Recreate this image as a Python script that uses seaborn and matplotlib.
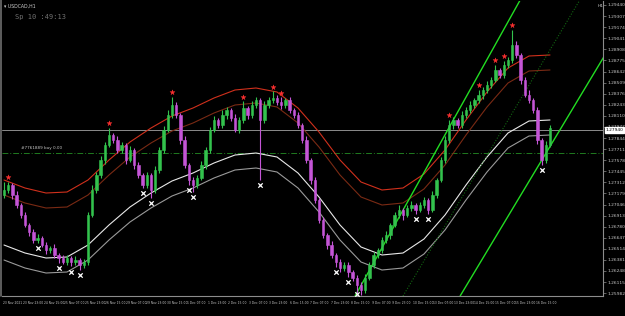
import numpy as np
import pandas as pd
import seaborn as sns
import matplotlib
matplotlib.use("Agg")
import matplotlib.pyplot as plt

# ---------------- data ----------------
closes = [1.27220, 1.27280, 1.27160, 1.27040, 1.26920, 1.26800, 1.26716, 1.26620, 1.26644, 1.26560,
          1.26500, 1.26524, 1.26440, 1.26404, 1.26356, 1.26404, 1.26356, 1.26380, 1.26320, 1.26356,
          1.26920, 1.27220, 1.27400, 1.27580, 1.27760, 1.27880, 1.27820, 1.27700, 1.27760, 1.27580,
          1.27700, 1.27520, 1.27400, 1.27280, 1.27400, 1.27220, 1.27460, 1.27700, 1.27940, 1.28120,
          1.28240, 1.28120, 1.27820, 1.27520, 1.27340, 1.27280, 1.27364, 1.27520, 1.27700, 1.27940,
          1.28060, 1.28000, 1.28120, 1.28180, 1.28084, 1.27940, 1.28060, 1.28204, 1.28120, 1.28240,
          1.28300, 1.28060, 1.28240, 1.28300, 1.28324, 1.28276, 1.28240, 1.28300, 1.28180, 1.28120,
          1.28000, 1.27820, 1.27580, 1.27340, 1.27100, 1.26860, 1.26680, 1.26560, 1.26440, 1.26356,
          1.26284, 1.26320, 1.26236, 1.26164, 1.26080, 1.26020, 1.26164, 1.26320, 1.26440, 1.26500,
          1.26620, 1.26680, 1.26800, 1.26920, 1.26980, 1.26920, 1.27004, 1.27040, 1.26980, 1.27040,
          1.27100, 1.26980, 1.27160, 1.27340, 1.27580, 1.27820, 1.28000, 1.28060, 1.28000, 1.28120,
          1.28180, 1.28240, 1.28300, 1.28360, 1.28420, 1.28480, 1.28540, 1.28660, 1.28600, 1.28720,
          1.28780, 1.28960, 1.28840, 1.28540, 1.28360, 1.28300, 1.28180, 1.27820, 1.27580, 1.27760,
          1.27964]
opens = [1.27160, 1.27220, 1.27280, 1.27160, 1.27040, 1.26920, 1.26800, 1.26716, 1.26620, 1.26644,
         1.26560, 1.26500, 1.26524, 1.26440, 1.26404, 1.26356, 1.26404, 1.26356, 1.26380, 1.26320,
         1.26356, 1.26920, 1.27220, 1.27400, 1.27580, 1.27760, 1.27880, 1.27820, 1.27700, 1.27760,
         1.27580, 1.27700, 1.27520, 1.27400, 1.27280, 1.27400, 1.27220, 1.27460, 1.27700, 1.27940,
         1.28120, 1.28240, 1.28120, 1.27820, 1.27520, 1.27340, 1.27280, 1.27364, 1.27520, 1.27700,
         1.27940, 1.28060, 1.28000, 1.28120, 1.28180, 1.28084, 1.27940, 1.28060, 1.28204, 1.28120,
         1.28240, 1.28300, 1.28060, 1.28240, 1.28300, 1.28324, 1.28276, 1.28240, 1.28300, 1.28180,
         1.28120, 1.28000, 1.27820, 1.27580, 1.27340, 1.27100, 1.26860, 1.26680, 1.26560, 1.26440,
         1.26356, 1.26284, 1.26320, 1.26236, 1.26164, 1.26080, 1.26020, 1.26164, 1.26320, 1.26440,
         1.26500, 1.26620, 1.26680, 1.26800, 1.26920, 1.26980, 1.26920, 1.27004, 1.27040, 1.26980,
         1.27040, 1.27100, 1.26980, 1.27160, 1.27340, 1.27580, 1.27820, 1.28000, 1.28060, 1.28000,
         1.28120, 1.28180, 1.28240, 1.28300, 1.28360, 1.28420, 1.28480, 1.28540, 1.28660, 1.28600,
         1.28720, 1.28780, 1.28960, 1.28840, 1.28540, 1.28360, 1.28300, 1.28180, 1.27820, 1.27580,
         1.27760]
upper_wick_pips = [10, 4, 3, 5, 3, 4, 3, 4, 5, 3,
                   4, 3, 5, 3, 4, 4, 3, 5, 3, 4,
                   3, 6, 4, 5, 4, 8, 3, 5, 4, 3,
                   5, 3, 4, 3, 4, 3, 5, 4, 5, 6,
                   10, 4, 3, 5, 3, 4, 3, 5, 4, 4,
                   5, 3, 6, 4, 3, 5, 4, 8, 3, 5,
                   4, 3, 5, 4, 8, 4, 6, 3, 4, 3,
                   4, 3, 5, 3, 4, 3, 4, 3, 5, 3,
                   4, 3, 4, 3, 3, 4, 5, 3, 4, 3,
                   4, 5, 3, 4, 6, 3, 4, 5, 3, 4,
                   4, 3, 5, 3, 4, 5, 6, 4, 3, 5,
                   4, 5, 3, 6, 4, 5, 4, 6, 3, 5,
                   4, 18, 5, 3, 4, 6, 3, 4, 3, 5,
                   4]
lower_wick_pips = [4, 3, 5, 3, 4, 3, 5, 3, 4, 3,
                   5, 4, 3, 6, 3, 4, 5, 4, 6, 4,
                   4, 3, 4, 3, 5, 3, 4, 3, 4, 5,
                   3, 5, 4, 4, 3, 10, 4, 3, 4, 3,
                   3, 4, 5, 3, 6, 8, 4, 3, 5, 4,
                   3, 4, 3, 5, 4, 3, 4, 3, 5, 4,
                   3, 72, 4, 3, 4, 3, 5, 3, 4, 3,
                   4, 3, 4, 5, 3, 4, 3, 5, 4, 6,
                   5, 4, 6, 4, 10, 6, 4, 3, 4, 3,
                   4, 3, 5, 3, 4, 6, 3, 4, 5, 3,
                   4, 5, 3, 4, 3, 4, 3, 5, 4, 3,
                   3, 4, 3, 4, 5, 3, 4, 3, 4, 3,
                   4, 3, 4, 5, 3, 4, 3, 5, 6, 4,
                   3]

band_idx = list(range(0, 131, 5))
band_mid = [1.26860, 1.26764, 1.26704, 1.26716, 1.26860, 1.27100, 1.27316, 1.27484, 1.27628,
            1.27724, 1.27844, 1.27940, 1.27964, 1.27916, 1.27724, 1.27436, 1.27100, 1.26836,
            1.26740, 1.26764, 1.26932, 1.27220, 1.27580, 1.27916, 1.28204, 1.28348, 1.28360]
outer_width = 0.0048
inner_width = 0.0030

red_idx = [1, 25, 40, 57, 64, 66, 106, 113, 117, 119, 121]
red_price = [1.2738, 1.2802, 1.2840, 1.2834, 1.2846, 1.2839, 1.2812, 1.2848, 1.2878, 1.2883, 1.2920]
low_idx = [8, 13, 16, 18, 33, 35, 44, 45, 61, 79, 82, 84, 98, 101, 128]
low_price = [1.2652, 1.2628, 1.2624, 1.2620, 1.2719, 1.2706, 1.2722, 1.2714, 1.2728, 1.2624,
             1.2612, 1.2597, 1.2687, 1.2687, 1.2746]

chan_upper = ([83.6, 122.9], [1.25948, 1.29500])
chan_lower = ([108.6, 143.8], [1.25948, 1.28900])
chan_dotted = ([95.0, 137.1], [1.25948, 1.29500])
bid_line = 1.27940
tp_line = 1.27664

x_labels = ["23 Nov 2021", "23 Nov 23:00", "24 Nov 15:00", "25 Nov 07:00", "25 Nov 23:00",
            "26 Nov 15:00", "29 Nov 07:00", "29 Nov 23:00", "30 Nov 15:00", "1 Dec 07:00",
            "1 Dec 23:00", "2 Dec 15:00", "3 Dec 07:00", "3 Dec 23:00", "6 Dec 15:00",
            "7 Dec 07:00", "7 Dec 23:00", "8 Dec 15:00", "9 Dec 07:00", "9 Dec 23:00",
            "10 Dec 15:00", "13 Dec 07:00", "13 Dec 23:00", "14 Dec 15:00", "15 Dec 07:00",
            "15 Dec 23:00", "16 Dec 15:00"]

# ---------------- figure ----------------
sns.set_theme(style="dark")
plt.rcParams['font.family'] = ['DejaVu Sans']
W, H = 625, 316
fig = plt.figure(figsize=(W / 100, H / 100), dpi=100, facecolor="black")
ax = fig.add_axes([2 / W, 20 / H, 601 / W, 295 / H], facecolor="black")

n = len(closes)
idx = np.arange(n)
o = np.array(opens)
c = np.array(closes)
hi = np.maximum(o, c) + np.array(upper_wick_pips) * 1e-4
lo = np.minimum(o, c) - np.array(lower_wick_pips) * 1e-4
up = c >= o
bull_col = "#33c24d"
bear_col = "#c455d6"
cols = np.where(up, bull_col, bear_col)

ax.vlines(idx, lo, hi, colors=cols, linewidth=0.8, zorder=3)
body_h = np.abs(c - o)
body_h = np.where(body_h < 0.00008, 0.00008, body_h)
ax.bar(idx, body_h, bottom=np.minimum(o, c), width=0.55, color=cols, edgecolor=cols,
       linewidth=0.4, zorder=4)

mid = np.array(band_mid)
bands = pd.DataFrame({
    "i": band_idx * 4,
    "price": np.concatenate([mid + outer_width, mid + inner_width, mid - inner_width, mid - outer_width]),
    "band": ["uo"] * len(band_idx) + ["ui"] * len(band_idx) + ["li"] * len(band_idx) + ["lo"] * len(band_idx),
})
pal = {"uo": "#d0301c", "ui": "#7a2a14", "li": "#e8e8e8", "lo": "#9a9a9a"}
sns.lineplot(data=bands, x="i", y="price", hue="band", palette=pal, ax=ax, legend=False,
             linewidth=0.8, zorder=2)

# channel lines
sns.lineplot(x=chan_upper[0], y=chan_upper[1], ax=ax, color="#22dd22", linewidth=1.0, zorder=2)
sns.lineplot(x=chan_lower[0], y=chan_lower[1], ax=ax, color="#22dd22", linewidth=1.0, zorder=2)
ax.plot(chan_dotted[0], chan_dotted[1], color="#116611", linewidth=0.8, linestyle=(0, (1, 1.5)), zorder=2)

ax.axhline(bid_line, color="#8c8c8c", linewidth=0.7, zorder=1)
ax.axhline(tp_line, color="#1f7a1f", linewidth=0.7, linestyle=(0, (6, 2, 1, 2)), zorder=1)

sns.scatterplot(x=red_idx, y=red_price, ax=ax, color="#ff3030", marker="*", s=14,
                edgecolor="#ff3030", linewidth=0.3, zorder=5)
sns.scatterplot(x=low_idx, y=low_price, ax=ax, color="white", marker="x", s=10,
                linewidth=0.9, zorder=5)

ymin = 1.2950 - 0.00012 * 296
ymax = 1.2950 - 0.00012 * 1
ax.set_ylim(ymin, ymax)
ax.set_xlim((2 - 4) / 4.2, (603 - 4) / 4.2)
ax.grid(False)
for s in ["top", "left"]:
    ax.spines[s].set_visible(False)
ax.spines["right"].set_color("#8c8c8c")
ax.spines["bottom"].set_color("#8c8c8c")
ax.spines["right"].set_linewidth(0.8)
ax.spines["bottom"].set_linewidth(0.8)

yt = [1.29440 - 0.00133 * k for k in range(27)]
ax.yaxis.tick_right()
ax.set_yticks(yt)
ax.set_yticklabels([f"{v:.5f}" for v in yt], fontsize=3.2, color="#c8c8c8")
ax.tick_params(axis="y", length=2, width=0.5, color="#8c8c8c", pad=1.5)

xt = [(3 + 20.5 * k - 4) / 4.2 for k in range(len(x_labels))]
ax.set_xticks(xt)
ax.set_xticklabels(x_labels, fontsize=2.2, color="#c8c8c8", ha="left")
ax.tick_params(axis="x", length=2, width=0.5, color="#8c8c8c", pad=1.5)
ax.set_xlabel("")
ax.set_ylabel("")

# price box
ax.text(1.004, (bid_line - ymin) / (ymax - ymin), f"{bid_line:.5f}", transform=ax.transAxes,
        fontsize=3.2, color="black", va="center", ha="left",
        bbox=dict(boxstyle="square,pad=0.15", fc="white", ec="white"))

# texts
fig.text(4 / W, 1 - 6 / H, "▾ USDCAD,H1", fontsize=3.3, color="#d0d0d0", va="center", ha="left")
fig.text(15 / W, 1 - 17 / H, "Sp 10 :49:13", fontsize=5, color="#707070", va="center",
         ha="left", family="DejaVu Sans Mono")
ax.text(4, tp_line + 0.0003, "#7761889 buy 0.00", fontsize=3.0, color="#c8c8c8", va="bottom", ha="left")
fig.text(598 / W, 1 - 6 / H, "H1", fontsize=3.2, color="#c8c8c8", va="center", ha="left")

# left border
fig.add_artist(plt.Line2D([1 / W, 1 / W], [20 / H, 1], color="#6e6e6e", linewidth=1.2))

fig.savefig("out.png", dpi=100, facecolor="black")
